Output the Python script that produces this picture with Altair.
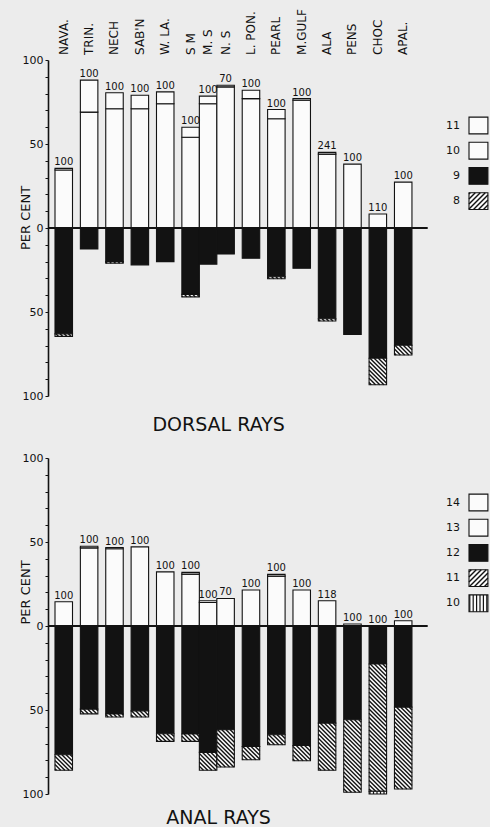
import altair as alt
import numpy as np
import pandas as pd

# ---- data -------------------------------------------------------------
stations = ["NAVA.", "TRIN.", "NECH", "SAB'N", "W. LA.", "S M", "M. S", "N. S",
            "L. PON.", "PEARL", "M.GULF", "ALA", "PENS", "CHOC", "APAL."]
# bars drawn touching the previous one (the three Mississippi Sound samples)
touches_prev = [False, False, False, False, False, False, True, True,
                False, False, False, False, False, False, False]

# dorsal rays: sample sizes and percent with 11, 10, 9, 8 rays
dorsal_n = [100, 100, 100, 100, 100, 100, 100, 70, 100, 100, 100, 241, 100, 110, 100]
d11 = [1, 19, 9.5, 8, 7, 6, 4.5, 1, 5, 5.5, 1, 1, 0, 0, 0]
d10 = [34.5, 69, 71, 71, 74, 54, 74, 84, 77, 65, 76, 44, 38, 8.3, 27.3]
d9 = [63, 12.5, 20, 22, 20, 39.5, 21.5, 15.5, 18, 29, 24, 54, 63.4, 77.5, 69.8]
d8 = [1.5, 0, 1, 0, 0, 1.5, 0, 0, 0, 1.2, 0, 1.4, 0, 15.8, 5.8]

# anal rays: sample sizes and percent with 14, 13, 12, 11, 10 rays
anal_n = [100, 100, 100, 100, 100, 100, 100, 70, 100, 100, 100, 118, 100, 100, 100]
a14 = [0, 1, 0.7, 0, 0, 1, 1, 0, 0, 1, 0, 0, 0, 0, 0]
a13 = [14.4, 46.5, 46, 47.1, 32.2, 30.9, 14, 16.4, 21.4, 29.7, 21.4, 15, 1.2, 0, 3.1]
a12 = [76.6, 49.5, 52.4, 50.5, 64.1, 64.3, 75.2, 61.8, 71.7, 64.7, 71.1, 57.8, 55.8, 22.6, 48.3]
a11 = [9.3, 2.8, 1.8, 3.7, 4.6, 4.4, 10.7, 22.1, 7.9, 6, 9.1, 28.1, 43.2, 75.8, 48.7]
a10 = [0, 0, 0, 0, 0, 0, 0, 0, 0, 0, 0, 0, 0, 1.6, 0]

# ---- layout -----------------------------------------------------------
FONT = "DejaVu Sans"
INK = "#121212"
PAPER = "#fbfbfb"
BG = "#ececec"
PLOT_W, PLOT_H = 442, 336
XMIN, XMAX = -0.4, 24.86
BAR, GAP = 1.0, 0.45
ZERO_END = 21.3
PPX = PLOT_W / (XMAX - XMIN)
PPY = PLOT_H / 200.0

left = []
pos = 0.0
for i, t in enumerate(touches_prev):
    if i > 0:
        pos += BAR + (0.0 if t else GAP)
    left.append(pos)
left = np.array(left)
centre = left + BAR / 2

xscale = alt.Scale(domain=[XMIN, XMAX], nice=False, zero=False)
yscale = alt.Scale(domain=[-100, 100], nice=False, zero=False)
STYLE_SCALE = alt.Scale(domain=["open", "solid", "hatch", "vhatch"],
                        range=[PAPER, INK, PAPER, PAPER])

yaxis = alt.Axis(values=list(range(-100, 101, 10)),
                 labelExpr="datum.value % 50 === 0 ? format(abs(datum.value), 'd') : ''",
                 title=None, grid=False, domainColor=INK, domainWidth=1.6,
                 tickColor=INK, tickSize=3, tickWidth=1, labelFont=FONT,
                 labelFontSize=11, labelColor=INK, labelPadding=2, labelOverlap=False)


def qx(f):
    return alt.X(f"{f}:Q", scale=xscale, axis=None)


def qy(f):
    return alt.Y(f"{f}:Q", scale=yscale, axis=yaxis)


def segments(upper, lower):
    """Stack the classes: `upper` grow up from zero, `lower` grow down."""
    rows = []
    for i in range(len(stations)):
        base = 0.0
        for cls, vals, style in upper:
            v = vals[i]
            if v > 0:
                rows.append(dict(station=stations[i], cls=cls, style=style,
                                 x0=left[i], x1=left[i] + BAR, y0=base, y1=base + v))
            base += v
        base = 0.0
        for cls, vals, style in lower:
            v = vals[i]
            if v > 0:
                rows.append(dict(station=stations[i], cls=cls, style=style,
                                 x0=left[i], x1=left[i] + BAR, y0=-base, y1=-(base + v)))
            base += v
    return pd.DataFrame(rows)


def hatch_lines(rects, kind, period):
    """Hatch strokes clipped to each rectangle, worked out in pixel space."""
    out = []
    for r in rects.itertuples():
        X0, X1 = r.x0 * PPX, r.x1 * PPX
        Ya, Yb = sorted((r.y0 * PPY, r.y1 * PPY))
        if kind == "vert":
            X = np.ceil(X0 / period) * period
            while X < X1:
                if X > X0:
                    out.append((X, Ya, X, Yb))
                X += period
        elif kind == "back":  # top-left to bottom-right: Y = c - X
            c = np.ceil((Ya + X0) / period) * period
            while c < Yb + X1:
                xa, xb = max(X0, c - Yb), min(X1, c - Ya)
                if xb > xa:
                    out.append((xa, c - xa, xb, c - xb))
                c += period
        else:  # bottom-left to top-right: Y = X + c
            c = np.ceil((Ya - X1) / period) * period
            while c < Yb - X0:
                xa, xb = max(X0, Ya - c), min(X1, Yb - c)
                if xb > xa:
                    out.append((xa, xa + c, xb, xb + c))
                c += period
    df = pd.DataFrame(out, columns=["X0", "Y0", "X1", "Y1"])
    return pd.DataFrame({"hx0": df.X0 / PPX, "hy0": df.Y0 / PPY,
                         "hx1": df.X1 / PPX, "hy1": df.Y1 / PPY})


def rules(df, width):
    return alt.Chart(df).mark_rule(color=INK, strokeWidth=width, strokeCap="butt").encode(
        x=qx("hx0"), x2="hx1:Q", y=qy("hy0"), y2="hy1:Q")


def panel(upper, lower, counts, legend_items, title, title_y, percent_y, show_names):
    seg = segments(upper, lower)
    layers = []

    bars = alt.Chart(seg).mark_rect(stroke=INK, strokeWidth=1.1).encode(
        x=qx("x0"), x2="x1:Q",
        y=qy("y0"), y2="y1:Q",
        fill=alt.Fill("style:N", scale=STYLE_SCALE, legend=None))
    layers.append(bars)

    diag = hatch_lines(seg[seg["style"] == "hatch"], "back", 4.2)
    if len(diag):
        layers.append(rules(diag, 1.4))
    vert = hatch_lines(seg[seg["style"] == "vhatch"], "vert", 3.5)
    if len(vert):
        layers.append(rules(vert, 1.2))

    zero = pd.DataFrame({"a": [XMIN], "b": [ZERO_END], "y": [0]})
    layers.append(alt.Chart(zero).mark_rule(color=INK, strokeWidth=1.8).encode(
        x=qx("a"), x2="b:Q", y=qy("y")))

    tops = pd.DataFrame({"xc": centre, "n": [str(v) for v in counts],
                         "top": [sum(v[i] for _, v, _ in upper) for i in range(len(stations))]})
    layers.append(alt.Chart(tops).mark_text(font=FONT, fontSize=10, fill=INK,
                                            baseline="bottom", dy=-1).encode(
        x=qx("xc"), y=qy("top"), text="n:N"))

    if show_names:
        names = pd.DataFrame({"xc": centre, "name": stations, "ly": 103})
        layers.append(alt.Chart(names).mark_text(font=FONT, fontSize=12, fill=INK,
                                                 angle=270, align="left",
                                                 baseline="middle").encode(
            x=qx("xc"), y=qy("ly"), text="name:N"))

    notes = pd.DataFrame({"xc": [-1.66, 9.35], "yc": [percent_y, title_y],
                          "txt": ["PER CENT", title], "ang": [270, 0],
                          "size": [13, 19]})
    layers.append(alt.Chart(notes).mark_text(font=FONT, fill=INK, align="center",
                                             baseline="middle").encode(
        x=qx("xc"), y=qy("yc"), text="txt:N",
        angle=alt.Angle("ang:Q", scale=None),
        size=alt.Size("size:Q", scale=None)))

    # key: label, swatch box and its pattern
    top_y, step, half = legend_items["top"], 15.0, 5.0
    keys = pd.DataFrame({"lab": [k for k, _ in legend_items["keys"]],
                         "style": [s for _, s in legend_items["keys"]]})
    keys["yc"] = top_y - step * np.arange(len(keys))
    keys["x0"], keys["x1"] = 23.66, 24.74
    keys["y0"], keys["y1"] = keys["yc"] - half, keys["yc"] + half
    keys["lx"] = 23.14
    layers.append(alt.Chart(keys).mark_rect(stroke=INK, strokeWidth=1.1).encode(
        x=qx("x0"), x2="x1:Q", y=qy("y0"), y2="y1:Q",
        fill=alt.Fill("style:N", scale=STYLE_SCALE, legend=None)))
    kd = hatch_lines(keys[keys["style"] == "hatch"], "fwd", 5.0)
    if len(kd):
        layers.append(rules(kd, 1.4))
    kv = hatch_lines(keys[keys["style"] == "vhatch"], "vert", 3.4)
    if len(kv):
        layers.append(rules(kv, 1.2))
    layers.append(alt.Chart(keys).mark_text(font=FONT, fontSize=11, fill=INK,
                                            align="right", baseline="middle").encode(
        x=qx("lx"), y=qy("yc"), text="lab:N"))

    return alt.layer(*layers).properties(width=PLOT_W, height=PLOT_H)


dorsal = panel(
    upper=[("10", d10, "open"), ("11", d11, "open")],
    lower=[("9", d9, "solid"), ("8", d8, "hatch")],
    counts=dorsal_n,
    legend_items={"top": 61, "keys": [("11", "open"), ("10", "open"),
                                      ("9", "solid"), ("8", "hatch")]},
    title="DORSAL RAYS", title_y=-117.5, percent_y=6, show_names=True)

anal = panel(
    upper=[("13", a13, "open"), ("14", a14, "open")],
    lower=[("12", a12, "solid"), ("11", a11, "hatch"), ("10", a10, "vhatch")],
    counts=anal_n,
    legend_items={"top": 73.5, "keys": [("14", "open"), ("13", "open"), ("12", "solid"),
                                        ("11", "hatch"), ("10", "vhatch")]},
    title="ANAL RAYS", title_y=-114, percent_y=20, show_names=False)

chart = alt.vconcat(dorsal, anal, spacing=62, bounds="flush").properties(
    background=BG,
    padding={"left": 19, "top": 9, "right": 0, "bottom": 0},
).configure_view(stroke=None)

chart.save("out.html", embed_options={"renderer": "svg", "actions": False})
